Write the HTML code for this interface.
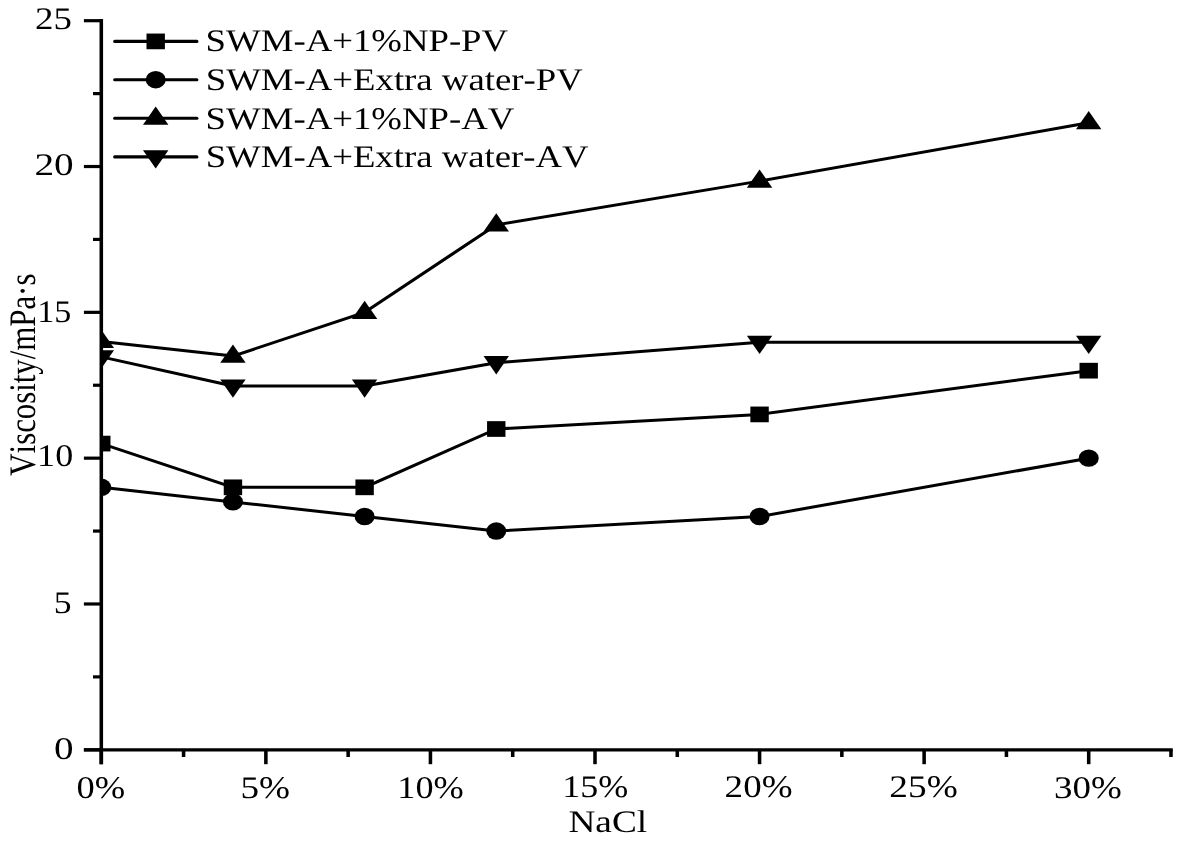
<!DOCTYPE html>
<html><head><meta charset="utf-8"><style>
html,body{margin:0;padding:0;background:#fff;overflow:hidden;}
svg{display:block;filter:grayscale(1) blur(0.5px);}
text{font-family:"Liberation Serif",serif;fill:#000;font-kerning:none;text-rendering:geometricPrecision;}
</style></head><body>
<svg width="1180" height="841" viewBox="0 0 1180 841">
<rect width="1180" height="841" fill="#fff"/>
<defs><clipPath id="pc"><rect x="101.3" y="0" width="1080" height="841"/></clipPath></defs>
<g clip-path="url(#pc)">
<g transform="translate(101.3,0) scale(1.165,1)">
<polyline points="0.000,443.58 113.007,487.32 226.014,487.32 339.021,429.00 565.036,414.41 847.554,370.67" fill="none" stroke="#000" stroke-width="3.0" stroke-linejoin="round"/>
<polyline points="0.000,487.32 113.007,501.91 226.014,516.49 339.021,531.07 565.036,516.49 847.554,458.16" fill="none" stroke="#000" stroke-width="3.0" stroke-linejoin="round"/>
<polyline points="0.000,341.50 113.007,356.09 226.014,312.34 339.021,224.85 565.036,181.10 847.554,122.77" fill="none" stroke="#000" stroke-width="3.0" stroke-linejoin="round"/>
<polyline points="0.000,356.89 113.007,386.05 226.014,386.05 339.021,362.72 565.036,342.30 847.554,342.30" fill="none" stroke="#000" stroke-width="3.0" stroke-linejoin="round"/>
</g>
<rect x="92.10" y="435.73" width="18.4" height="15.7"/>
<rect x="223.75" y="479.47" width="18.4" height="15.7"/>
<rect x="355.41" y="479.47" width="18.4" height="15.7"/>
<rect x="487.06" y="421.15" width="18.4" height="15.7"/>
<rect x="750.37" y="406.56" width="18.4" height="15.7"/>
<rect x="1079.50" y="362.82" width="18.4" height="15.7"/>
<ellipse cx="101.30" cy="487.32" rx="10.0" ry="8.7"/>
<ellipse cx="232.95" cy="501.91" rx="10.0" ry="8.7"/>
<ellipse cx="364.61" cy="516.49" rx="10.0" ry="8.7"/>
<ellipse cx="496.26" cy="531.07" rx="10.0" ry="8.7"/>
<ellipse cx="759.57" cy="516.49" rx="10.0" ry="8.7"/>
<ellipse cx="1088.70" cy="458.16" rx="10.0" ry="8.7"/>
<path d="M101.30 329.80L114.00 348.10L88.60 348.10Z"/>
<path d="M232.95 344.39L245.65 362.69L220.25 362.69Z"/>
<path d="M364.61 300.64L377.31 318.94L351.91 318.94Z"/>
<path d="M496.26 213.15L508.96 231.45L483.56 231.45Z"/>
<path d="M759.57 169.40L772.27 187.70L746.87 187.70Z"/>
<path d="M1088.70 111.07L1101.40 129.37L1076.00 129.37Z"/>
<path d="M101.30 368.59L114.00 350.29L88.60 350.29Z"/>
<path d="M232.95 397.75L245.65 379.45L220.25 379.45Z"/>
<path d="M364.61 397.75L377.31 379.45L351.91 379.45Z"/>
<path d="M496.26 374.42L508.96 356.12L483.56 356.12Z"/>
<path d="M759.57 354.00L772.27 335.70L746.87 335.70Z"/>
<path d="M1088.70 354.00L1101.40 335.70L1076.00 335.70Z"/>
</g>
<g stroke="#000" stroke-width="3.2" stroke-linecap="butt"><line x1="101.3" y1="19.10" x2="101.3" y2="764.2" stroke-width="3.55"/><line x1="83.9" y1="749.8" x2="1172.76" y2="749.8"/><line x1="83.9" y1="749.80" x2="101.3" y2="749.80"/><line x1="83.9" y1="603.98" x2="101.3" y2="603.98"/><line x1="83.9" y1="458.16" x2="101.3" y2="458.16"/><line x1="83.9" y1="312.34" x2="101.3" y2="312.34"/><line x1="83.9" y1="166.52" x2="101.3" y2="166.52"/><line x1="83.9" y1="20.70" x2="101.3" y2="20.70"/><line x1="93" y1="676.89" x2="101.3" y2="676.89"/><line x1="93" y1="531.07" x2="101.3" y2="531.07"/><line x1="93" y1="385.25" x2="101.3" y2="385.25"/><line x1="93" y1="239.43" x2="101.3" y2="239.43"/><line x1="93" y1="93.61" x2="101.3" y2="93.61"/><line x1="101.30" y1="749.8" x2="101.30" y2="764.2" stroke-width="3.55"/><line x1="265.87" y1="749.8" x2="265.87" y2="764.2" stroke-width="3.55"/><line x1="430.43" y1="749.8" x2="430.43" y2="764.2" stroke-width="3.55"/><line x1="595.00" y1="749.8" x2="595.00" y2="764.2" stroke-width="3.55"/><line x1="759.57" y1="749.8" x2="759.57" y2="764.2" stroke-width="3.55"/><line x1="924.13" y1="749.8" x2="924.13" y2="764.2" stroke-width="3.55"/><line x1="1088.70" y1="749.8" x2="1088.70" y2="764.2" stroke-width="3.55"/><line x1="183.58" y1="749.8" x2="183.58" y2="757" stroke-width="3.55"/><line x1="348.15" y1="749.8" x2="348.15" y2="757" stroke-width="3.55"/><line x1="512.72" y1="749.8" x2="512.72" y2="757" stroke-width="3.55"/><line x1="677.28" y1="749.8" x2="677.28" y2="757" stroke-width="3.55"/><line x1="841.85" y1="749.8" x2="841.85" y2="757" stroke-width="3.55"/><line x1="1006.42" y1="749.8" x2="1006.42" y2="757" stroke-width="3.55"/><line x1="1170.98" y1="749.8" x2="1170.98" y2="757" stroke-width="3.55"/></g>
<line x1="114.7" y1="41.4" x2="196.9" y2="41.4" stroke="#000" stroke-width="3.1" stroke-linecap="round"/>
<rect x="146.50" y="33.55" width="18.4" height="15.7"/>
<line x1="114.7" y1="79.7" x2="196.9" y2="79.7" stroke="#000" stroke-width="3.1" stroke-linecap="round"/>
<ellipse cx="155.70" cy="79.70" rx="10.0" ry="8.7"/>
<line x1="114.7" y1="118.2" x2="196.9" y2="118.2" stroke="#000" stroke-width="3.1" stroke-linecap="round"/>
<path d="M155.70 106.50L168.40 124.80L143.00 124.80Z"/>
<line x1="114.7" y1="156.9" x2="196.9" y2="156.9" stroke="#000" stroke-width="3.1" stroke-linecap="round"/>
<path d="M155.70 168.60L168.40 150.30L143.00 150.30Z"/>
<g><text id="t0" transform="translate(73.51,758.76) scale(1.2436,1)" text-anchor="end" font-size="31.5">0</text><text id="t1" transform="translate(71.51,612.72) scale(1.1328,1)" text-anchor="end" font-size="31.5">5</text><text id="t2" transform="translate(73.16,466.34) scale(1.1450,1)" text-anchor="end" font-size="31.5">10</text><text id="t3" transform="translate(71.26,321.59) scale(1.0833,1)" text-anchor="end" font-size="31.5">15</text><text id="t4" transform="translate(73.75,175.23) scale(1.2468,1)" text-anchor="end" font-size="31.5">20</text><text id="t5" transform="translate(71.86,29.38) scale(1.1714,1)" text-anchor="end" font-size="31.5">25</text><text id="t6" transform="translate(100.77,797.54) scale(1.1593,1)" text-anchor="middle" font-size="31.5">0%</text><text id="t7" transform="translate(265.29,797.83) scale(1.1801,1)" text-anchor="middle" font-size="31.5">5%</text><text id="t8" transform="translate(430.60,797.57) scale(1.1513,1)" text-anchor="middle" font-size="31.5">10%</text><text id="t9" transform="translate(595.29,797.26) scale(1.1436,1)" text-anchor="middle" font-size="31.5">15%</text><text id="t10" transform="translate(758.57,797.26) scale(1.1758,1)" text-anchor="middle" font-size="31.5">20%</text><text id="t11" transform="translate(923.53,797.26) scale(1.1834,1)" text-anchor="middle" font-size="31.5">25%</text><text id="t12" transform="translate(1087.84,797.83) scale(1.1740,1)" text-anchor="middle" font-size="31.5">30%</text><text id="t13" transform="translate(607.81,831.77) scale(1.1847,1)" text-anchor="middle" font-size="31.5">NaCl</text><text id="t14" transform="translate(205.58,50.86) scale(1.1668,1)" text-anchor="start" font-size="31.5">SWM-A+1%NP-PV</text><text id="t15" transform="translate(205.71,89.91) scale(1.1670,1)" text-anchor="start" font-size="31.5">SWM-A+Extra water-PV</text><text id="t16" transform="translate(205.57,128.71) scale(1.1669,1)" text-anchor="start" font-size="31.5">SWM-A+1%NP-AV</text><text id="t17" transform="translate(205.64,166.59) scale(1.1663,1)" text-anchor="start" font-size="31.5">SWM-A+Extra water-AV</text><text id="t18" transform="translate(35.24,374.63) rotate(-90) scale(1,1.2142)" text-anchor="middle" font-size="30.821656597206072">Viscosity/mPa&#183;s</text></g>
</svg>
</body></html>
